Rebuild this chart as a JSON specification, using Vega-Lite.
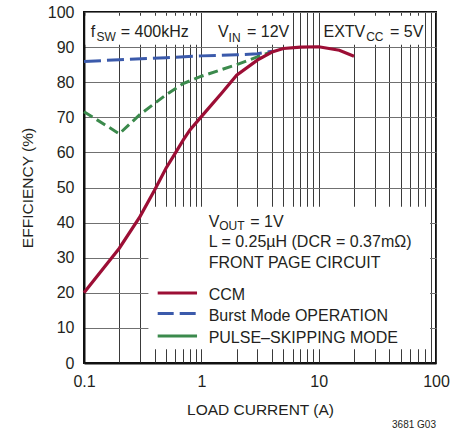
{
  "$schema": "https://vega.github.io/schema/vega-lite/v6.json",
  "width": 352,
  "height": 351,
  "autosize": {"type": "none"},
  "padding": {"left": 84, "top": 12, "right": 31, "bottom": 68},
  "background": "white",
  "config": {
    "view": {"stroke": "#111", "strokeWidth": 2},
    "font": "Liberation Sans",
    "text": {"font": "Liberation Sans", "color": "#231f20"},
    "axis": {
      "labelFont": "Liberation Sans",
      "titleFont": "Liberation Sans",
      "labelFontSize": 16,
      "titleFontSize": 15.5,
      "titleFontWeight": "normal",
      "labelColor": "#231f20",
      "titleColor": "#231f20",
      "domainColor": "#111",
      "domainWidth": 2,
      "ticks": false,
      "tickSize": 0,
      "gridWidth": 1,
      "gridOpacity": 1,
      "labelOverlap": false,
      "labelFlush": false,
      "labelBound": false
    }
  },
  "encoding": {
    "x": {
      "field": "x",
      "type": "quantitative",
      "scale": {"type": "log", "domain": [0.1, 100], "nice": false},
      "axis": {
        "title": "LOAD CURRENT (A)",
        "values": [0.1, 0.2, 0.3, 0.4, 0.5, 0.6, 0.7, 0.8, 0.9, 1, 2, 3, 4, 5, 6, 7, 8, 9, 10, 20, 30, 40, 50, 60, 70, 80, 90, 100],
        "labelExpr": "datum.value == 0.1 ? '0.1' : datum.value == 1 ? '1' : datum.value == 10 ? '10' : datum.value == 100 ? '100' : ''",
        "labelPadding": 10,
        "titlePadding": 13,
        "gridColor": "#3a3a3a"
      }
    },
    "y": {
      "field": "y",
      "type": "quantitative",
      "scale": {"domain": [0, 100], "nice": false},
      "axis": {
        "title": "EFFICIENCY (%)",
        "values": [0, 10, 20, 30, 40, 50, 60, 70, 80, 90, 100],
        "labelPadding": 10,
        "titlePadding": 12,
        "gridColor": "#707070"
      }
    }
  },
  "layer": [
    {
      "data": {"values": [
        {"x": 0.103, "x2": 0.955, "y": 90.7, "y2": 98.9},
        {"x": 1.04, "x2": 5.85, "y": 90.7, "y2": 98.9},
        {"x": 10.5, "x2": 79, "y": 90.7, "y2": 98.9},
        {"x": 0.354, "x2": 88.9, "y": 3.9, "y2": 44.5}
      ]},
      "mark": {"type": "rect", "fill": "white", "stroke": null},
      "encoding": {"x2": {"field": "x2"}, "y2": {"field": "y2"}}
    },
    {
      "data": {"values": [
        {"x": 0.1, "y": 71.6}, {"x": 0.2, "y": 65.3}, {"x": 0.3, "y": 70.8}, {"x": 0.5, "y": 76.4},
        {"x": 0.7, "y": 79.6}, {"x": 1, "y": 81.7}, {"x": 2, "y": 85}, {"x": 3, "y": 87.2}, {"x": 4, "y": 88.7}
      ]},
      "mark": {"type": "line", "color": "#3b8a4c", "strokeWidth": 3, "strokeDash": [10, 5]}
    },
    {
      "data": {"values": [
        {"x": 0.1, "y": 85.9}, {"x": 0.2, "y": 86.4}, {"x": 0.5, "y": 87.0}, {"x": 1, "y": 87.5},
        {"x": 2, "y": 87.8}, {"x": 3, "y": 88.1}, {"x": 4, "y": 88.8}
      ]},
      "mark": {"type": "line", "color": "#3b5aab", "strokeWidth": 3, "strokeDash": [17, 6]}
    },
    {
      "data": {"values": [
        {"x": 0.1, "y": 20}, {"x": 0.2, "y": 32.7}, {"x": 0.3, "y": 41.7}, {"x": 0.4, "y": 49.3},
        {"x": 0.5, "y": 55.5}, {"x": 0.6, "y": 59.8}, {"x": 0.7, "y": 63.5}, {"x": 0.8, "y": 66.4},
        {"x": 1, "y": 70.2}, {"x": 1.5, "y": 77}, {"x": 2, "y": 82}, {"x": 3, "y": 86.3},
        {"x": 4, "y": 88.6}, {"x": 5, "y": 89.6}, {"x": 7, "y": 90}, {"x": 10, "y": 90.1},
        {"x": 15, "y": 89.1}, {"x": 20, "y": 87.4}
      ]},
      "mark": {"type": "line", "color": "#9c0e35", "strokeWidth": 3.2}
    },
    {
      "data": {"values": [
        {"x": 0.4246, "x2": 0.919, "y": 19.94, "series": "CCM"},
        {"x": 0.4246, "x2": 0.919, "y": 7.7, "series": "PULSE–SKIPPING MODE"}
      ]},
      "mark": {"type": "rule", "strokeWidth": 3},
      "encoding": {
        "x2": {"field": "x2"},
        "color": {
          "field": "series",
          "type": "nominal",
          "scale": {"domain": ["CCM", "PULSE–SKIPPING MODE"], "range": ["#9c0e35", "#3b8a4c"]},
          "legend": null
        }
      }
    },
    {
      "data": {"values": [
        {"x": 0.4246, "x2": 0.919, "y": 14.07, "series": "Burst Mode OPERATION"}
      ]},
      "mark": {"type": "rule", "strokeWidth": 3, "color": "#3b5aab", "strokeDash": [16, 6]},
      "encoding": {"x2": {"field": "x2"}}
    },
    {
      "data": {"values": [
        {"x": 0.1143, "y": 92.9, "text": "f"},
        {"x": 0.2056, "y": 92.9, "text": "= 400kHz"},
        {"x": 1.388, "y": 92.9, "text": "V"},
        {"x": 2.448, "y": 92.9, "text": "= 12V"},
        {"x": 10.99, "y": 92.9, "text": "EXTV"},
        {"x": 40.6, "y": 92.9, "text": "= 5V"},
        {"x": 1.154, "y": 38.75, "text": "V"},
        {"x": 2.612, "y": 38.75, "text": "= 1V"},
        {"x": 1.154, "y": 33.0, "text": "L = 0.25µH (DCR = 0.37mΩ)"},
        {"x": 1.154, "y": 27.0, "text": "FRONT PAGE CIRCUIT"},
        {"x": 1.154, "y": 18.0, "text": "CCM"},
        {"x": 1.154, "y": 11.9, "text": "Burst Mode OPERATION"},
        {"x": 1.154, "y": 5.6, "text": "PULSE–SKIPPING MODE"}
      ]},
      "mark": {"type": "text", "fontSize": 16, "align": "left", "baseline": "alphabetic"},
      "encoding": {"text": {"field": "text"}}
    },
    {
      "data": {"values": [
        {"x": 0.1277, "y": 91.75, "text": "SW"},
        {"x": 1.708, "y": 91.5, "text": "IN"},
        {"x": 25.4, "y": 91.65, "text": "CC"},
        {"x": 1.422, "y": 38.0, "text": "OUT"}
      ]},
      "mark": {"type": "text", "fontSize": 12, "align": "left", "baseline": "alphabetic"},
      "encoding": {"text": {"field": "text"}}
    },
    {
      "data": {"values": [
        {"x": 100, "y": -17.7, "text": "3681 G03"}
      ]},
      "mark": {"type": "text", "fontSize": 10, "align": "right", "baseline": "middle"},
      "encoding": {"text": {"field": "text"}}
    }
  ]
}
